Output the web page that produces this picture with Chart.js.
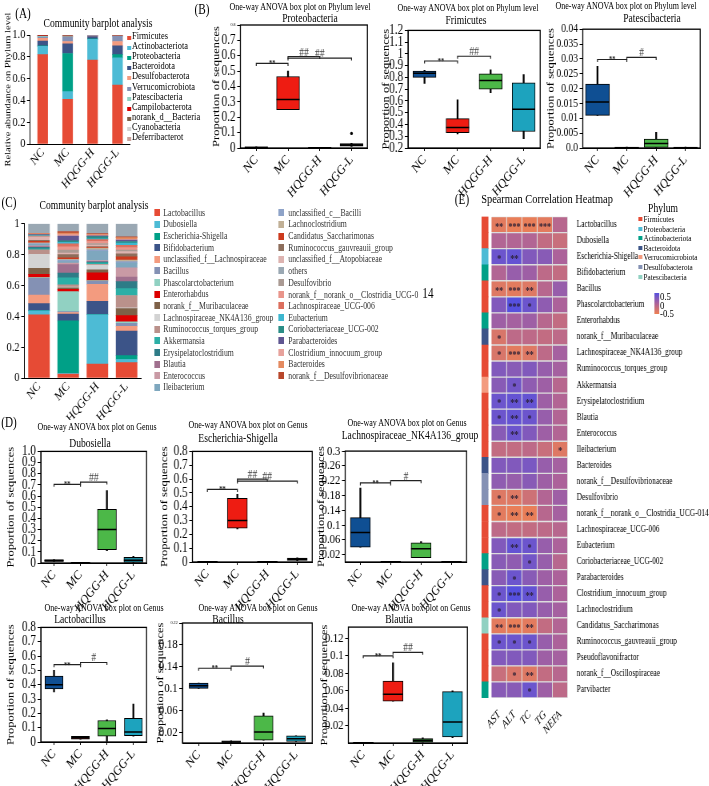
<!DOCTYPE html>
<html>
<head>
<meta charset="utf-8">
<script src="https://cdn.jsdelivr.net/npm/chart.js@4.4.1/dist/chart.umd.min.js"></script>
<style>
html, body { margin: 0; padding: 0; background: #fff; overflow: hidden; width: 709px; height: 786px; }
#root { position: absolute; left: 0; top: 0; width: 887px; height: 786px; transform: scaleX(0.8); transform-origin: 0 0; font-family: 'Liberation Serif', serif; color: #000; }
#root canvas { position: absolute; }
.t { position: absolute; white-space: nowrap; line-height: 1; transform: translate(-50%, -50%); }
.l { position: absolute; white-space: nowrap; line-height: 1; transform: translateY(-50%); }
.sq { position: absolute; }
</style>
</head>
<body>
<div id="root"></div>
<script>
// the whole figure is a bit squeezed sideways, so everything is drawn wider and scaled by S
const S = 0.8;
const FONT = 'Liberation Serif';
const groups = ['NC', 'MC', 'HQGG-H', 'HQGG-L'];

// (A) phylum level
const phyla = ['Firmicutes', 'Actinobacteriota', 'Proteobacteria', 'Bacteroidota', 'Desulfobacterota',
  'Verrucomicrobiota', 'Patescibacteria', 'Campilobacterota', 'norank_d__Bacteria', 'Cyanobacteria', 'Deferribacterot'];
const phylumColors = ['#E64B35', '#4DBBD5', '#00A087', '#3C5488', '#F39B7F', '#8491B4', '#91D1C2',
  '#DC0000', '#7E6148', '#D3D3D3', '#C9A29A'];
const phylumShare = [
  [0.82, 0.41, 0.77, 0.54],
  [0.075, 0.07, 0.19, 0.25],
  [0.005, 0.35, 0.005, 0.03],
  [0.045, 0.09, 0.02, 0.08],
  [0.025, 0.02, 0.005, 0.04],
  [0.01, 0.04, 0.008, 0.048],
  [0.008, 0.005, 0.001, 0.003],
  [0.004, 0.005, 0.0005, 0.002],
  [0.004, 0.005, 0.0005, 0.002],
  [0.002, 0.003, 0.0005, 0.002],
  [0.002, 0.002, 0, 0.003]
];
const phylumTicks = ['0', '0.2', '0.4', '0.6', '0.8', '1.0'];

// (C) genus level
const genera = ['Lactobacillus', 'Dubosiella', 'Escherichia-Shigella', 'Bifidobacterium',
  'unclassified_f__Lachnospiraceae', 'Bacillus', 'Phascolarctobacterium', 'Enterorhabdus',
  'norank_f__Muribaculaceae', 'Lachnospiraceae_NK4A136_group', 'Ruminococcus_torques_group', 'Akkermansia',
  'Erysipelatoclostridium', 'Blautia', 'Enterococcus', 'Ileibacterium',
  'unclassified_c__Bacilli', 'Lachnoclostridium', 'Candidatus_Saccharimonas', 'Ruminococcus_gauvreauii_group',
  'unclassified_f__Atopobiaceae', 'others', 'Desulfovibrio', 'norank_f__norank_o__Clostridia_UCG-014',
  'Lachnospiraceae_UCG-006', 'Eubacterium', 'Coriobacteriaceae_UCG-002', 'Parabacteroides',
  'Clostridium_innocuum_group', 'Bacteroides', 'norank_f__Desulfovibrionaceae'];
const genusColors = ['#E64B35', '#4DBBD5', '#00A087', '#3C5488', '#F39B7F', '#8491B4', '#91D1C2', '#DC0000',
  '#7E6148', '#D3D3D3', '#BA918B', '#2CAFA6', '#2E7C87', '#A0708E', '#C99AA5', '#7EA7BE',
  '#8EA3C8', '#C1B096', '#CC3A1E', '#8D6E5C', '#DDB3B0', '#9AA8B3', '#AA9A93', '#E9958B',
  '#DC6F5E', '#3DB7CF', '#2A8D86', '#5F5691', '#E7A29C', '#E48A60', '#B8472B'];
const genusShare = [
  [0.41, 0.025, 0.09, 0.10],
  [0.025, 0.005, 0.32, 0.02],
  [0.002, 0.34, 0.002, 0.025],
  [0.045, 0.045, 0.085, 0.16],
  [0.055, 0.01, 0.11, 0.03],
  [0.11, 0.005, 0.02, 0.02],
  [0.005, 0.13, 0.005, 0.01],
  [0.02, 0.015, 0.05, 0.04],
  [0.04, 0.01, 0.02, 0.045],
  [0.09, 0.005, 0.03, 0.005],
  [0.03, 0.015, 0.005, 0.08],
  [0.005, 0.045, 0.01, 0.045],
  [0.01, 0.03, 0.005, 0.045],
  [0.005, 0.055, 0.005, 0.03],
  [0.005, 0.01, 0.005, 0.06],
  [0.01, 0.01, 0.06, 0.03],
  [0.005, 0.01, 0.01, 0.01],
  [0.005, 0.005, 0.01, 0.01],
  [0.01, 0.01, 0.005, 0.02],
  [0.005, 0.02, 0.005, 0.02],
  [0.02, 0.01, 0.01, 0.015],
  [0.061, 0.05, 0.063, 0.085],
  [0.003, 0.02, 0.01, 0.01],
  [0.003, 0.02, 0.015, 0.015],
  [0.003, 0.02, 0.01, 0.015],
  [0.003, 0.01, 0.005, 0.015],
  [0.003, 0.01, 0.015, 0.01],
  [0.003, 0.03, 0.005, 0.01],
  [0.003, 0.01, 0.005, 0.005],
  [0.003, 0.01, 0.005, 0.01],
  [0.003, 0.01, 0.005, 0.005]
];
const genusTicks = ['0', '0.2', '0.4', '0.6', '0.8', '1'];

// (B) and (D) box plots, one row per group: [min, q1, median, q3, max]
const proteoBox = [[0, 0, 0.004, 0.008, 0.008], [0.25, 0.25, 0.315, 0.465, 0.50], [0, 0, 0.002, 0.005, 0.005], [0.01, 0.012, 0.02, 0.028, 0.03]];
const proteoOut = [null, null, null, 0.095];
const proteoTicks = ['0', '0.1', '0.2', '0.3', '0.4', '0.5', '0.6', '0.7', '0.8'];
const firmBox = [[0.75, 0.80, 0.835, 0.855, 0.86], [0.32, 0.33, 0.375, 0.45, 0.61], [0.67, 0.70, 0.775, 0.83, 0.865], [0.28, 0.34, 0.53, 0.755, 0.825]];
const firmTicks = ['0.2', '0.3', '0.4', '0.5', '0.6', '0.7', '0.8', '0.9', '1', '1.1', '1.2'];
const pateBox = [[0.011, 0.011, 0.0155, 0.0215, 0.0275], [0, 0, 0.0001, 0.0003, 0.0003], [0, 0.0002, 0.0015, 0.003, 0.0053], [0, 0, 0.0001, 0.0003, 0.0003]];
const pateTicks = ['0.0', '0.005', '0.01', '0.015', '0.02', '0.025', '0.03', '0.035', '0.04'];

const duboBox = [[0.015, 0.015, 0.02, 0.03, 0.03], [0, 0, 0.002, 0.005, 0.005], [0.11, 0.12, 0.30, 0.48, 0.65], [0, 0.005, 0.025, 0.05, 0.06]];
const duboTicks = ['0', '0.1', '0.2', '0.3', '0.4', '0.5', '0.6', '0.7', '0.8', '0.9', '1.0'];
const eschBox = [[0, 0, 0.002, 0.004, 0.004], [0.24, 0.245, 0.30, 0.46, 0.49], [0, 0, 0.002, 0.004, 0.004], [0.01, 0.012, 0.02, 0.028, 0.03]];
const eschTicks = ['0', '0.1', '0.2', '0.3', '0.4', '0.5', '0.6', '0.7', '0.8'];
const nk4Box = [[0.04, 0.04, 0.08, 0.12, 0.20], [0, 0, 0.001, 0.002, 0.002], [0.012, 0.012, 0.036, 0.052, 0.055], [0, 0, 0.001, 0.002, 0.002]];
const nk4Ticks = ['0.02', '0.06', '0.1', '0.14', '0.18', '0.22', '0.26', '0.3'];
const lactoBox = [[0.35, 0.37, 0.40, 0.46, 0.50], [0.02, 0.02, 0.03, 0.04, 0.04], [0, 0.04, 0.095, 0.15, 0.155], [0.04, 0.045, 0.07, 0.165, 0.265]];
const lactoTicks = ['0', '0.1', '0.2', '0.3', '0.4', '0.5', '0.6', '0.7', '0.8'];
const bacilBox = [[0.10, 0.10, 0.105, 0.11, 0.11], [0.001, 0.001, 0.002, 0.004, 0.004], [0.005, 0.005, 0.02, 0.05, 0.055], [0.003, 0.003, 0.008, 0.013, 0.013]];
const bacilTicks = ['0.02', '0.06', '0.1', '0.14', '0.18', '0.22'];
const blautBox = [[0, 0, 0.0004, 0.0008, 0.0008], [0.048, 0.048, 0.056, 0.071, 0.092], [0.001, 0.001, 0.003, 0.005, 0.006], [0.006, 0.007, 0.024, 0.059, 0.06]];
const blautTicks = ['0.02', '0.04', '0.06', '0.08', '0.1', '0.12'];

// (E) spearman heatmap
const hmMeasures = ['AST', 'ALT', 'TC', 'TG', 'NEFA'];
const hmRows = ['Lactobacillus', 'Dubosiella', 'Escherichia-Shigella', 'Bifidobacterium', 'Bacillus',
  'Phascolarctobacterium', 'Enterorhabdus', 'norank_f__Muribaculaceae', 'Lachnospiraceae_NK4A136_group',
  'Ruminococcus_torques_group', 'Akkermansia', 'Erysipelatoclostridium', 'Blautia', 'Enterococcus',
  'Ileibacterium', 'Bacteroides', 'norank_f__Desulfovibrionaceae', 'Desulfovibrio',
  'norank_f__norank_o__Clostridia_UCG-014', 'Lachnospiraceae_UCG-006', 'Eubacterium',
  'Coriobacteriaceae_UCG-002', 'Parabacteroides', 'Clostridium_innocuum_group', 'Lachnoclostridium',
  'Candidatus_Saccharimonas', 'Ruminococcus_gauvreauii_group', 'Pseudoflavonifractor',
  'norank_f__Oscillospiraceae', 'Parvibacter'];
const hmPhyla = ['Firmicutes', 'Proteobacteria', 'Actinobacteriota', 'Bacteroidota', 'Verrucomicrobiota', 'Desulfobacterota', 'Patescibacteria'];
const hmPhylaColors = ['#E64B35', '#4DBBD5', '#00A087', '#3C5488', '#F39B7F', '#8491B4', '#91D1C2'];
const hmRowPhylum = ['Firmicutes', 'Firmicutes', 'Proteobacteria', 'Actinobacteriota', 'Firmicutes',
  'Firmicutes', 'Actinobacteriota', 'Bacteroidota', 'Firmicutes', 'Firmicutes', 'Verrucomicrobiota',
  'Firmicutes', 'Firmicutes', 'Firmicutes', 'Firmicutes', 'Bacteroidota', 'Desulfobacterota',
  'Desulfobacterota', 'Firmicutes', 'Firmicutes', 'Firmicutes', 'Actinobacteriota', 'Bacteroidota',
  'Firmicutes', 'Firmicutes', 'Patescibacteria', 'Firmicutes', 'Firmicutes', 'Firmicutes', 'Actinobacteriota'];
const hmRho = [
  [-0.5, -0.55, -0.55, -0.5, -0.1], [-0.05, -0.05, -0.05, -0.2, -0.25], [0.45, 0.5, 0.3, 0.25, 0],
  [-0.05, 0.15, 0.1, -0.15, -0.2], [-0.45, -0.5, -0.45, -0.1, 0.15], [0.3, 0.65, 0.45, 0.2, 0],
  [0.1, 0.05, 0.1, -0.1, -0.2], [-0.4, -0.15, -0.15, -0.2, -0.15], [-0.4, -0.5, -0.45, -0.15, 0.05],
  [0.3, 0.25, 0.3, 0.15, 0.05], [0.25, 0.4, 0.2, 0.1, -0.1], [0.45, 0.5, 0.5, 0.1, -0.05],
  [0.45, 0.5, 0.45, 0.15, -0.05], [0.25, 0.45, 0.3, 0.1, -0.05], [-0.2, -0.2, -0.15, -0.25, -0.45],
  [0.3, 0.3, 0.35, 0.15, 0.05], [0.2, 0.15, 0.25, 0.1, 0], [-0.45, -0.45, -0.3, -0.05, 0.1],
  [-0.5, -0.55, -0.55, -0.1, 0.05], [-0.15, -0.2, -0.2, -0.15, -0.1], [0.3, 0.5, 0.45, 0.15, 0],
  [0.25, 0.2, 0.4, 0.15, -0.1], [0.25, 0.45, 0.25, 0.1, 0], [0.45, 0.6, 0.5, 0.15, 0],
  [0.45, 0.3, 0.3, 0.15, 0.05], [-0.5, -0.55, -0.5, -0.2, -0.05], [0.45, 0.45, 0.45, 0.15, 0],
  [0.3, 0.3, 0.3, 0.1, 0.05], [-0.25, -0.4, -0.45, -0.2, -0.1], [0.25, 0.25, 0.45, 0.1, -0.15]
];
const hmStars = [
  ['**', '***', '***', '***', ''], ['', '', '', '', ''], ['*', '**', '', '', ''], ['', '', '', '', ''],
  ['**', '***', '**', '', ''], ['', '***', '*', '', ''], ['', '', '', '', ''], ['*', '', '', '', ''],
  ['*', '***', '**', '', ''], ['', '', '', '', ''], ['', '*', '', '', ''], ['*', '**', '**', '', ''],
  ['*', '**', '*', '', ''], ['', '**', '', '', ''], ['', '', '', '', '*'], ['', '', '', '', ''],
  ['', '', '', '', ''], ['*', '**', '', '', ''], ['*', '**', '**', '', ''], ['', '', '', '', ''],
  ['', '**', '*', '', ''], ['', '', '*', '', ''], ['', '*', '', '', ''], ['*', '***', '**', '', ''],
  ['*', '', '', '', ''], ['**', '***', '**', '', ''], ['*', '*', '*', '', ''], ['', '', '', '', ''],
  ['', '*', '**', '', ''], ['', '', '*', '', '']
];

Chart.defaults.font.family = FONT;
Chart.defaults.color = '#000';
Chart.defaults.animation = false;

const root = document.getElementById('root');

function addCanvas(l, t, r, b, left, right, top, bottom) {
  const c = document.createElement('canvas');
  const x0 = l - left, y0 = t - top;
  const w = Math.round((r + right - x0) / S), h = Math.round(b + bottom - y0);
  c.width = w; c.height = h;
  c.style.left = (x0 / S) + 'px';
  c.style.top = y0 + 'px';
  c.style.width = w + 'px';
  c.style.height = h + 'px';
  root.appendChild(c);
  return c;
}

function text(str, x, y, size, center, extra) {
  const d = document.createElement('div');
  d.className = center ? 't' : 'l';
  d.textContent = str;
  d.style.left = (x / S) + 'px';
  d.style.top = y + 'px';
  d.style.fontSize = size + 'px';
  if (extra) Object.assign(d.style, extra);
  root.appendChild(d);
  return d;
}

function swatch(color, x, y, w, h) {
  const d = document.createElement('div');
  d.className = 'sq';
  d.style.cssText = `left:${x / S}px;top:${y}px;width:${w / S}px;height:${h}px;background:${color}`;
  root.appendChild(d);
}

function yAxis(tickLabels, min, max, axW, size, title, tiny) {
  return {
    min: min, max: max,
    afterBuildTicks: s => { s.ticks = tickLabels.map(v => ({ value: parseFloat(v) })); },
    afterFit: s => { s.width = axW / S; },
    ticks: {
      autoSkip: false, padding: 2, color: '#000',
      callback: (v, i) => tickLabels[i],
      font: c => ({ family: FONT, size: tickLabels[c.index] === tiny ? 5 : size })
    },
    grid: { drawOnChartArea: false, tickLength: 4, color: '#000' },
    border: { color: '#000' },
    title: title ? { display: true, text: title.text, font: { family: FONT, size: title.size }, color: '#000', padding: 0 } : { display: false }
  };
}

function xAxis(axH, size, tickLen) {
  return {
    afterFit: s => { s.height = axH; },
    ticks: { minRotation: 45, maxRotation: 45, autoSkip: false, padding: 1, color: '#000', font: { family: FONT, size: size } },
    grid: { display: tickLen > 0, drawOnChartArea: false, tickLength: tickLen, color: '#000', offset: false },
    border: { color: '#000' }
  };
}

const framePlugin = {
  id: 'frame',
  afterDraw(chart) {
    const a = chart.chartArea, ctx = chart.ctx;
    ctx.save();
    ctx.strokeStyle = '#000';
    ctx.lineWidth = 1.3;
    ctx.strokeRect(a.left, a.top, a.right - a.left, a.bottom - a.top);
    ctx.restore();
  }
};

const bracketPlugin = {
  id: 'brackets',
  afterDatasetsDraw(chart, args, opts) {
    const xs = chart.scales.x, ys = chart.scales.y, ctx = chart.ctx;
    (opts.list || []).forEach(([i, j, v, mark]) => {
      const x1 = xs.getPixelForValue(i), x2 = xs.getPixelForValue(j), y = ys.getPixelForValue(v);
      ctx.save();
      ctx.strokeStyle = '#222';
      ctx.lineWidth = 1.2;
      ctx.beginPath();
      ctx.moveTo(x1, y + 2.5); ctx.lineTo(x1, y); ctx.lineTo(x2, y); ctx.lineTo(x2, y + 2.5);
      ctx.stroke();
      ctx.fillStyle = '#222';
      ctx.textAlign = 'center';
      ctx.textBaseline = 'alphabetic';
      if (mark === '**') {
        ctx.font = `bold 8px ${FONT}`;
        ctx.fillText(mark, (x1 + x2) / 2, y + 3);
      } else {
        ctx.font = `12px ${FONT}`;
        ctx.fillStyle = '#444';
        ctx.fillText(mark, (x1 + x2) / 2, y - 1);
      }
      ctx.restore();
    });
  }
};

function boxChart(g, box, colors, tickLabels, yMin, yMax, brackets, outliers, bw, tickSize, tiny) {
  const [l, t, r, b, axW, axH] = g;
  const c = addCanvas(l, t, r, b, axW, 3, 6, axH);
  new Chart(c, {
    type: 'bar',
    data: {
      labels: groups,
      datasets: [
        { type: 'line', data: box.map(q => q[2]), showLine: false, pointStyle: 'line',
          pointRadius: bw / 2 / S, pointHoverRadius: bw / 2 / S, borderColor: '#000',
          pointBorderColor: '#000', pointBorderWidth: 1.5 },
        { type: 'line', data: outliers || [null, null, null, null], showLine: false, pointStyle: 'circle',
          pointRadius: 1.7, pointBackgroundColor: '#000', pointBorderWidth: 0 },
        { data: box.map(q => [q[1], q[3]]), backgroundColor: colors, borderColor: '#000', borderWidth: 1,
          borderSkipped: false, barThickness: bw / S, grouped: false },
        { data: box.map(q => [q[0], q[4]]), backgroundColor: '#000', borderWidth: 0,
          barThickness: 1.3 / S, grouped: false }
      ]
    },
    options: {
      responsive: false, devicePixelRatio: 1, animation: false,
      layout: { padding: { left: 0, right: 3 / S, top: 6, bottom: 0 }, autoPadding: false },
      scales: {
        x: xAxis(axH, 13.5, 3),
        y: yAxis(tickLabels, yMin, yMax, axW, tickSize, { text: 'Proportion of sequences', size: 12.5 }, tiny)
      },
      plugins: { legend: { display: false }, tooltip: { enabled: false }, brackets: { list: brackets } }
    },
    plugins: [framePlugin, bracketPlugin]
  });
}

function stackChart(g, names, share, colors, tickLabels, bw, order, yTitle, padT) {
  const [l, t, r, b, axW, axH] = g;
  const c = addCanvas(l, t, r, b, axW, 2, padT, axH);
  new Chart(c, {
    type: 'bar',
    data: {
      labels: groups,
      datasets: order.map(i => ({ label: names[i], data: share[i], backgroundColor: colors[i], barThickness: bw / S }))
    },
    options: {
      responsive: false, devicePixelRatio: 1, animation: false,
      layout: { padding: { left: 0, right: 2 / S, top: padT, bottom: 0 }, autoPadding: false },
      scales: {
        x: Object.assign(xAxis(axH, 13, 0), { stacked: true }),
        y: Object.assign(yAxis(tickLabels, 0, 1, axW, 13, yTitle), { stacked: true })
      },
      plugins: { legend: { display: false }, tooltip: { enabled: false } }
    }
  });
}

function rhoColor(v) {
  const t = Math.max(-1, Math.min(1, v / 0.6));
  const mid = [172, 98, 154], neg = [238, 128, 82], pos = [86, 80, 222];
  const end = t < 0 ? neg : pos, a = Math.abs(t);
  return `rgb(${mid.map((m, k) => Math.round(m + (end[k] - m) * a))})`;
}

// ---------- (A)
stackChart([30, 35, 130, 144, 27, 45], phyla, phylumShare, phylumColors, phylumTicks, 10,
  phyla.map((p, i) => i), { text: 'Relative abundance on Phylum level', size: 10.5 }, 32);

// ---------- (C)
const genusOrder = genera.map((g, i) => i).filter(i => genera[i] !== 'others');
genusOrder.push(genera.indexOf('others'));
stackChart([24, 222, 141, 378, 22, 42], genera, genusShare, genusColors, genusTicks, 21, genusOrder, null, 8);

// ---------- (B)
const BLUE = '#0f4f93', RED = '#ee1c12', GREEN = '#4cb848', TEAL = '#1da3be', BLK = '#111';
boxChart([240, 25, 367, 148, 30, 50], proteoBox, [BLK, RED, BLK, BLK], proteoTicks, 0, 0.8,
  [[0, 1, 0.55, '**'], [1, 2, 0.595, '##'], [1, 3, 0.585, '##']], proteoOut, 23, 14, '0.8');
boxChart([408, 26, 540, 148, 28, 50], firmBox, [BLUE, RED, GREEN, TEAL], firmTicks, 0.2, 1.2,
  [[0, 1, 0.94, '**'], [1, 2, 0.98, '##']], null, 23, 14);
boxChart([583, 26, 700, 148, 38, 50], pateBox, [BLUE, BLK, GREEN, BLK], pateTicks, 0, 0.04,
  [[0, 1, 0.0298, '**'], [1, 2, 0.0305, '#']], null, 24, 12);

// ---------- (D)
boxChart([41, 447, 147, 563, 36, 50], duboBox, [BLK, BLK, GREEN, '#1e8a9e'], duboTicks, 0, 1.0,
  [[0, 1, 0.705, '**'], [1, 2, 0.725, '##']], null, 19, 14);
boxChart([192, 447, 312, 562, 34, 50], eschBox, [BLK, RED, BLK, BLK], eschTicks, 0, 0.8,
  [[0, 1, 0.525, '**'], [1, 2, 0.6, '##'], [1, 3, 0.585, '##']], null, 20, 14);
boxChart([345, 447, 466, 562, 30, 50], nk4Box, [BLUE, BLK, GREEN, BLK], nk4Ticks, 0, 0.3,
  [[0, 1, 0.214, '**'], [1, 2, 0.22, '#']], null, 20, 13.5);
boxChart([41, 623, 147, 742, 36, 44], lactoBox, [BLUE, '#7f1c1c', GREEN, TEAL], lactoTicks, 0, 0.8,
  [[0, 1, 0.54, '**'], [1, 2, 0.555, '#']], null, 18, 14);
boxChart([182, 623, 312, 743, 28, 43], bacilBox, [BLUE, BLK, GREEN, TEAL], bacilTicks, 0, 0.22,
  [[0, 1, 0.137, '**'], [1, 2, 0.141, '#']], null, 19, 13.5, '0.22');
boxChart([348, 623, 467, 743, 30, 43], blautBox, [BLK, RED, '#2f7a34', TEAL], blautTicks, 0, 0.133,
  [[0, 1, 0.1, '**'], [1, 2, 0.104, '##']], null, 20, 13.5);

// ---------- (E) heatmap, phylum strip + gap + 5 measures stacked sideways
const starPlugin = {
  id: 'stars',
  afterDatasetsDraw(chart) {
    const ctx = chart.ctx;
    ctx.save();
    ctx.fillStyle = '#2a2035';
    ctx.font = `bold 10px ${FONT}`;
    ctx.textAlign = 'center';
    ctx.textBaseline = 'middle';
    hmMeasures.forEach((m, j) => {
      chart.getDatasetMeta(j + 2).data.forEach((el, i) => {
        const s = hmStars[i][j];
        if (s) ctx.fillText(s, (el.x + el.base) / 2, el.y + 2.5);
      });
    });
    ctx.restore();
  }
};
const hmCanvas = addCanvas(481.7, 210, 568.3, 698, 0, 141, 2, 40);
new Chart(hmCanvas, {
  type: 'bar',
  data: {
    labels: hmRows,
    datasets: [
      { data: hmRows.map(() => 0.43), backgroundColor: hmRowPhylum.map(p => hmPhylaColors[hmPhyla.indexOf(p)]), borderWidth: 0 },
      { data: hmRows.map(() => 0.22), backgroundColor: 'rgba(0,0,0,0)', borderWidth: 0 }
    ].concat(hmMeasures.map((m, j) => ({
      label: m,
      data: hmRows.map(() => 1),
      backgroundColor: hmRho.map(r => rhoColor(r[j])),
      borderColor: '#dcdcdc', borderWidth: 1
    })))
  },
  options: {
    indexAxis: 'y', responsive: false, devicePixelRatio: 1, animation: false,
    datasets: { bar: { barPercentage: 1, categoryPercentage: 1 } },
    layout: { padding: { left: 0, right: 0, top: 2, bottom: 0 }, autoPadding: false },
    scales: {
      x: {
        type: 'linear', stacked: true, min: 0, max: 5.65,
        afterBuildTicks: s => { s.ticks = hmMeasures.map((m, i) => ({ value: 1.15 + i })); },
        afterFit: s => { s.height = 40; },
        ticks: { autoSkip: false, minRotation: 45, maxRotation: 45, padding: 2, color: '#000',
          callback: (v, i) => hmMeasures[i], font: { family: FONT, size: 11.5, style: 'italic' } },
        grid: { display: false }, border: { display: false }
      },
      y: {
        type: 'category', position: 'right', stacked: true,
        afterFit: s => { s.width = 141 / S; },
        ticks: { autoSkip: false, padding: 3, color: '#000', font: { family: FONT, size: 9.3 } },
        grid: { display: false }, border: { display: false }
      }
    },
    plugins: { legend: { display: false }, tooltip: { enabled: false } }
  },
  plugins: [starPlugin]
});

// ---------- text: panel letters, titles, legends
text('(A)', 23, 14, 14, true);
text('(B)', 202, 10, 14, true);
text('(C)', 9, 203, 14, true);
text('(D)', 9, 423, 14, true);
text('(E)', 462, 200, 14, true);

text('Community barplot analysis', 98, 23, 12, true);
text('Community barplot analysis', 94, 205, 12, true);

const boxTitles = [
  ['One-way ANOVA box plot on Phylum level', 300, 7, 'Proteobacteria', 310, 18],
  ['One-way ANOVA box plot on Phylum level', 468, 8, 'Frimicutes', 466, 20],
  ['One-way ANOVA box plot on Phylum level', 626, 6, 'Patescibacteria', 652, 18],
  ['One-way ANOVA box plot on Genus', 97, 427, 'Dubosiella', 90, 443],
  ['One-way ANOVA box plot on Genus', 248, 425, 'Escherichia-Shigella', 238, 438],
  ['One-way ANOVA box plot on Genus', 407, 423, 'Lachnospiraceae_NK4A136_group', 410, 435],
  ['One-way ANOVA box plot on Genus', 104, 608, 'Lactobacillus', 80, 619],
  ['One-way ANOVA box plot on Genus', 258, 608, 'Bacillus', 228, 619],
  ['One-way ANOVA box plot on Genus', 411, 608, 'Blautia', 399, 619]
];
boxTitles.forEach(([a, ax, ay, bname, bx, by]) => {
  text(a, ax, ay, 10, true);
  text(bname, bx, by, 12, true);
});

// (A) legend
phyla.forEach((p, i) => {
  const y = 36 + i * 10.1;
  swatch(phylumColors[i], 127, y, 4, 4);
  text(p, 132, y, 10.5, false);
});

// (C) legend, two columns
genera.forEach((g, i) => {
  const col = i < 16 ? 0 : 1, row = col ? i - 16 : i;
  const y = 212.7 + row * 11.65;
  swatch(genusColors[i], col ? 278 : 154, y - 3.5, 6, 7);
  const d = text(g, col ? 288.3 : 163.3, y, 9.7, false, { color: '#333' });
  if (g.endsWith('UCG-014')) {
    d.textContent = g.slice(0, -2);
    const sp = document.createElement('span');
    sp.textContent = '14';
    sp.style.cssText = 'font-size:14px;margin-left:5px;color:#000';
    d.appendChild(sp);
  }
});

// (E) title and legends
text('Spearman Correlation Heatmap', 547, 198, 13, true);
text('Phylum', 663, 208, 12, true);
hmPhyla.forEach((p, i) => {
  const y = 219 + i * 9.6;
  swatch(hmPhylaColors[i], 638, y - 2, 4, 4);
  text(p, 643.5, y, 9, false);
});
const bar = document.createElement('div');
bar.className = 'sq';
bar.style.cssText = `left:${654 / S}px;top:293px;width:${5 / S}px;height:21px;background:linear-gradient(to bottom, ${rhoColor(0.6)}, ${rhoColor(0)}, ${rhoColor(-0.6)})`;
root.appendChild(bar);
text('0.5', 660, 296, 11, false);
text('0', 660, 304.5, 11, false);
text('-0.5', 660, 313, 11, false);
</script>
</body>
</html>
